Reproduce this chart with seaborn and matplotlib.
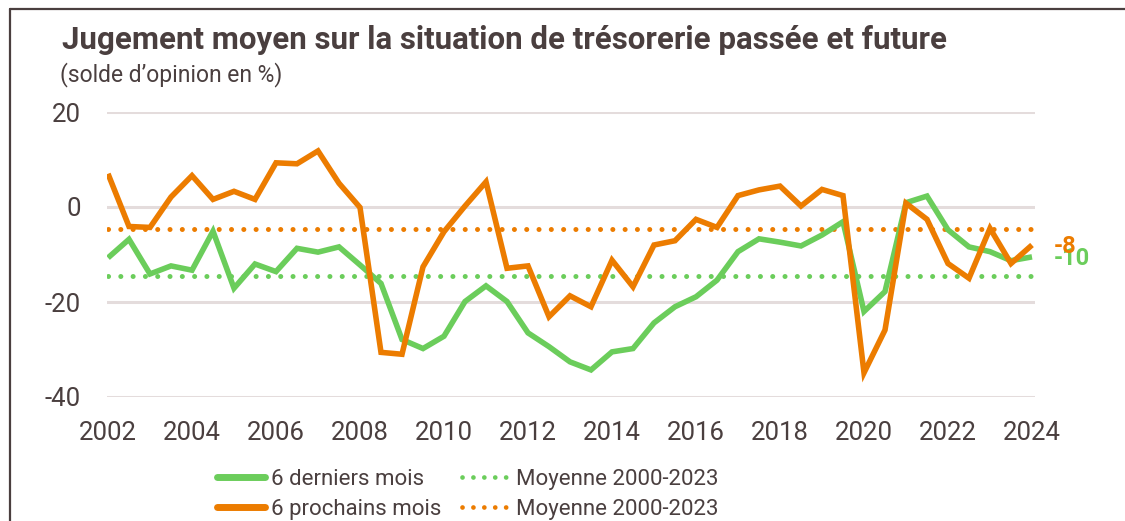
import numpy as np
import pandas as pd
import matplotlib.pyplot as plt
import seaborn as sns
from matplotlib.lines import Line2D

# ---------------------------------------------------------------
# DATA (soldes d'opinion semestriels)
# ---------------------------------------------------------------
periods = np.arange(2002, 2024.01, 0.5)

derniers_mois = [-10.7, -6.8, -14.1, -12.4, -13.3, -5.1, -17.1, -12.0, -13.6, -8.7,
                 -9.5, -8.4, -12.2, -16.1, -27.9, -29.8, -27.2, -19.9, -16.6, -19.9,
                 -26.5, -29.4, -32.6, -34.3, -30.5, -29.8, -24.4, -21.0, -18.9, -15.4,
                 -9.4, -6.7, -7.4, -8.2, -5.9, -3.1, -22.0, -17.8, 0.9, 2.3,
                 -4.8, -8.4, -9.4, -11.3, -10.5]
prochains_mois = [7.0, -4.1, -4.3, 2.1, 6.6, 1.6, 3.3, 1.6, 9.3, 9.1,
                  11.8, 5.0, -0.1, -30.6, -31.0, -12.6, -5.2, 0.2, 5.3, -12.9,
                  -12.4, -23.1, -18.7, -21.0, -11.2, -16.8, -8.0, -7.1, -2.6, -4.3,
                  2.4, 3.6, 4.4, 0.2, 3.7, 2.4, -34.9, -25.9, 0.8, -2.6,
                  -11.9, -15.0, -4.5, -11.9, -8.0]
moy_derniers = -14.5
moy_prochains = -4.6

series_labels = ["6 derniers mois", "6 prochains mois"]
mean_label = "Moyenne 2000-2023"
end_labels = ["-10", "-8"]
year_ticks = list(range(2002, 2025, 2))
value_ticks = [-40, -20, 0, 20]

title = "Jugement moyen sur la situation de trésorerie passée et future"
subtitle = "(solde d\u2019opinion en %)"

# ---------------------------------------------------------------
# STYLE
# ---------------------------------------------------------------
GREEN = "#6bcd5b"
ORANGE = "#ec7c00"
TEXT = "#4a3f3f"
GRID = "#e4dcdc"

sns.set_style("white")
plt.rcParams["font.family"] = ["Roboto", "DejaVu Sans"]
plt.rcParams["axes.unicode_minus"] = False
plt.rcParams["text.color"] = TEXT
plt.rcParams["xtick.color"] = TEXT
plt.rcParams["ytick.color"] = TEXT

df = pd.DataFrame({
    "periode": np.concatenate([periods, periods]),
    "solde": derniers_mois + prochains_mois,
    "serie": [series_labels[0]] * len(periods) + [series_labels[1]] * len(periods),
})

W, H = 1125, 521
fig = plt.figure(figsize=(W / 100, H / 100), dpi=100)
px = 42.0  # pixels par an
ax = fig.add_axes([107 / W, 1 - 397 / H, (1035 - 107) / W, (397 - 112) / H])

for v in value_ticks:
    ax.axhline(v, color=GRID, lw=2.2, zorder=0)

dot_style = (0, (0.01, 2.45))
ax.axhline(moy_derniers, color=GREEN, lw=3.6, ls=dot_style, dash_capstyle="round",
           xmin=1 / 928, xmax=925 / 928, zorder=1)
ax.axhline(moy_prochains, color=ORANGE, lw=3.6, ls=dot_style, dash_capstyle="round",
           xmin=1 / 928, xmax=925 / 928, zorder=1)

sns.lineplot(data=df, x="periode", y="solde", hue="serie", palette=[GREEN, ORANGE],
             linewidth=4, legend=False, ax=ax, zorder=3)
for line in ax.get_lines()[-2:]:
    line.set_solid_joinstyle("miter")
    line.set_solid_capstyle("butt")

ax.set_xlim(2002 - 1 / px, 2024 + 3 / px)
ax.set_ylim(-40, 20)
ax.set_xticks(year_ticks)
ax.set_yticks(value_ticks)
ax.set_xlabel("")
ax.set_ylabel("")
ax.tick_params(axis="both", length=0, labelsize=18.5)
ax.tick_params(axis="y", pad=19)
ax.tick_params(axis="x", pad=17)
sns.despine(ax=ax, left=True, bottom=True)

# étiquettes de fin de série (superposées comme dans l'original)
ax.annotate(end_labels[0], (periods[-1], derniers_mois[-1]), xytext=(16, -1),
            textcoords="offset points", color=GREEN, fontsize=17, fontweight="bold",
            va="center", ha="left")
ax.annotate(end_labels[1], (periods[-1], prochains_mois[-1]), xytext=(16, -1),
            textcoords="offset points", color=ORANGE, fontsize=17, fontweight="bold",
            va="center", ha="left")

# titres
fig.text(62 / W, 1 - 49 / H, title, fontsize=22.5, fontweight="bold", color=TEXT,
         va="baseline", ha="left")
fig.text(60 / W, 1 - 81 / H, subtitle, fontsize=16.5, color=TEXT, va="baseline", ha="left")

# légende
h1 = [Line2D([], [], color=GREEN, lw=5, solid_capstyle="round"),
      Line2D([], [], color=ORANGE, lw=5, solid_capstyle="round")]
h2 = [Line2D([], [], color=GREEN, lw=3.4, ls=(0, (0.01, 2.3)), dash_capstyle="round"),
      Line2D([], [], color=ORANGE, lw=3.4, ls=(0, (0.01, 2.3)), dash_capstyle="round")]
leg_kw = dict(frameon=False, fontsize=16, handlelength=2.15, handletextpad=0.3,
              labelspacing=0.4, borderpad=0, borderaxespad=0, loc="upper left",
              labelcolor=TEXT)
fig.legend(h1, series_labels, bbox_to_anchor=(217 / W, 1 - 469 / H), **leg_kw)
fig.legend(h2, [mean_label, mean_label], bbox_to_anchor=(462 / W, 1 - 469 / H), **leg_kw)

# cadre
fig.add_artist(Line2D([10 / W, 1], [1 - 9 / H, 1 - 9 / H], color=TEXT, lw=1.6,
                      transform=fig.transFigure))
fig.add_artist(Line2D([10 / W, 10 / W], [0, 1 - 9 / H], color=TEXT, lw=1.6,
                      transform=fig.transFigure))

fig.savefig("out.png", dpi=100)
